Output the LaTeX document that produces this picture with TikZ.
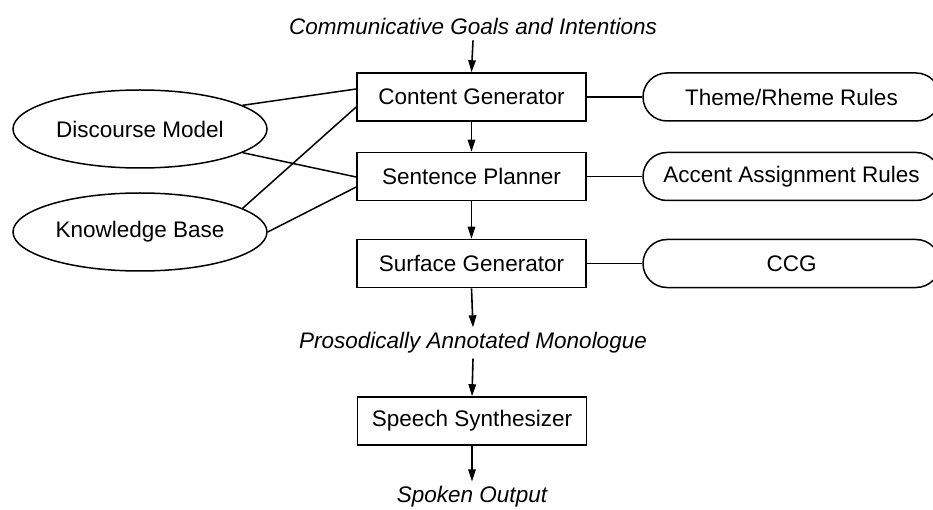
\documentclass[tikz,border=0pt]{standalone}
\usepackage{fontspec}
\setmainfont{Liberation Sans}
\usetikzlibrary{arrows.meta,shapes.geometric,calc}

\tikzset{
  module/.style={draw, line width=1.6pt, minimum width=229pt, minimum height=48pt,
    inner sep=0pt, font=\fontsize{22.5}{26}\selectfont},
  resource/.style={draw, line width=1.5pt, rounded corners=24pt, minimum width=297pt,
    minimum height=48pt, inner sep=0pt, font=\fontsize{22.5}{26}\selectfont},
  store/.style={draw, ellipse, line width=1.5pt, minimum width=254pt, minimum height=78pt,
    inner sep=0pt, font=\fontsize{22.5}{26}\selectfont},
  stream/.style={inner sep=0pt, font=\fontsize{22.5}{26}\selectfont\itshape},
  flow/.style={line width=1.6pt, -{Triangle[length=12pt,width=7.5pt]}},
  link/.style={line width=1.5pt}
}

\begin{document}
\begin{tikzpicture}[x=1pt, y=-1pt]
\useasboundingbox (0,0) rectangle (933,510);

% pipeline modules
\node[module] (cg) at (471.5,97)  {Content Generator};
\node[module] (sp) at (471.5,176.5) {Sentence Planner};
\node[module] (sg) at (471.5,263.5) {Surface Generator};
\node[module] (ss) at (472,421)   {Speech Synthesizer};

% inputs and outputs (y grows downward here)
\node[stream] (goals) at (473,26)  {Communicative Goals and Intentions};
\node[stream] (pam)   at (473,343) {Prosodically Annotated Monologue};
\node[stream, anchor=base] (out) at (472,502) {Spoken Output};

% knowledge sources
\node[store] (dm) at (140,129) {Discourse Model};
\node[store] (kb) at (140,232) {Knowledge Base};

% rule resources
\node[resource] (tr) at (791.5,97)    {Theme/Rheme Rules};
\node[resource] (ar) at (791.5,176.5) {Accent Assignment Rules};
\node[resource] (cc) at (791.5,263.5) {CCG};

% main flow
\draw[flow] ($(goals.south)+(0,6)$) -- (cg.north);
\draw[flow] (cg.south) -- (sp.north);
\draw[flow] (sp.south) -- (sg.north);
\draw[flow] (sg.south) -- ($(pam.north)+(0,-5)$);
\draw[flow] ($(pam.south)+(0,5)$) -- (ss.north);
\draw[flow] (ss.south) -- ($(out.north)+(0,-4)$);

% module to resource links
\draw[link] (cg.east) -- (tr.west);
\draw[link] (sp.east) -- (ar.west);
\draw[link] (sg.east) -- (cc.west);

% knowledge source links
\draw[link] (dm.13)  -- ($(cg.west)+(0,-8)$);
\draw[link] (dm.-13) -- ($(sp.west)+(0,0.5)$);
\draw[link] (kb.13)  -- ($(cg.west)+(0,10)$);
\draw[link] (kb.east) -- ($(sp.west)+(0,10.5)$);
\end{tikzpicture}
\end{document}
